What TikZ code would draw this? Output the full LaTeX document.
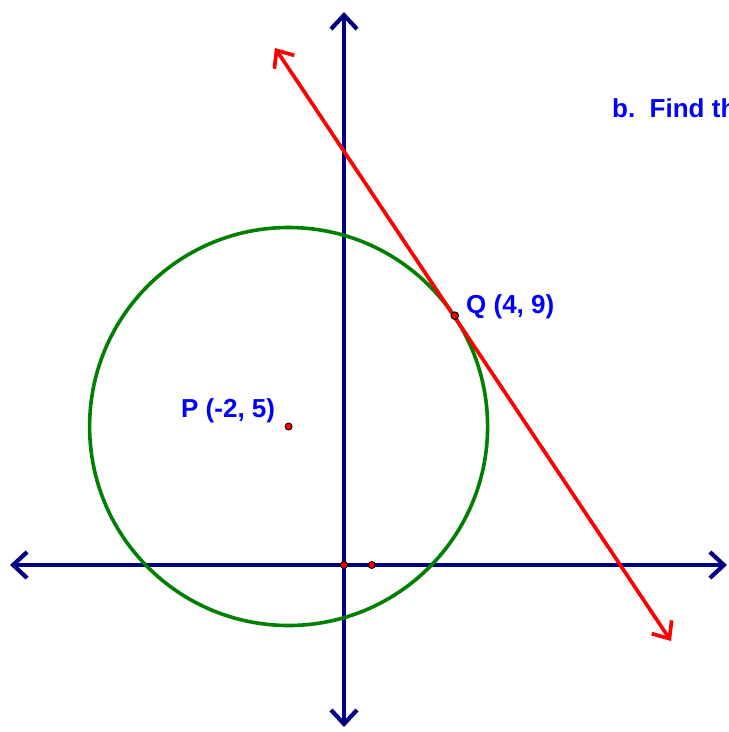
\documentclass[tikz,border=0pt]{standalone}
\usepackage{fontspec}
\setmainfont{Liberation Sans}
\usetikzlibrary{arrows.meta}
\definecolor{axisblue}{RGB}{0,0,128}
\definecolor{circgreen}{RGB}{0,128,0}
\definecolor{lblue}{RGB}{0,0,255}
\tikzset{
  axis/.style={draw=axisblue, line width=4.2pt, line cap=round,
    {Straight Barb[length=14pt,width=26pt,line width=4.2pt]}-{Straight Barb[length=14pt,width=26pt,line width=4.2pt]}},
  tangent/.style={draw=red, line width=3.7pt, line cap=round,
    {Straight Barb[length=14pt,width=24pt,line width=3.7pt]}-{Straight Barb[length=14pt,width=24pt,line width=3.7pt]}},
  dot/.style={circle, draw=black, fill=red, line width=0.9pt, inner sep=0pt, minimum size=7pt},
  qdot/.style={circle, draw=black, fill=red, line width=1.1pt, inner sep=0pt, minimum size=7.5pt},
  lbl/.style={text=lblue, font=\bfseries\fontsize{26}{30}\selectfont, anchor=base west, inner sep=0pt}
}
\begin{document}
\begin{tikzpicture}[x=1pt,y=-1pt]
\useasboundingbox (0,0) rectangle (729,732);
\clip (0,0) rectangle (729,732);
% axes
\coordinate (xl) at (10,565);
\coordinate (xr) at (727,565);
\coordinate (yt) at (344,12);
\coordinate (yb) at (344,727);
\draw[axis] (xl) -- (xr);
\draw[axis] (yb) -- (yt);
% circle
\coordinate (P) at (288.6,426.5);
\draw[circgreen, line width=3.6pt] (P) circle[radius=199];
% tangent line
\coordinate (ta) at (275,48);
\coordinate (tb) at (671,641);
\draw[tangent] (ta) -- (tb);
% points
\node[dot] (pdot) at (P) {};
\node[qdot] (qdot) at (454.8,315.7) {};
\node[dot] (odot) at (344,565) {};
\node[dot] (onedot) at (371.7,565) {};
% labels
\node[lbl] (plbl) at (181,417) {P (-2, 5)};
\node[lbl] (qlbl) at (466,313) {Q (4, 9)};
\node[lbl] (blbl) at (612,117) {b.\ \ Find th};
\end{tikzpicture}
\end{document}
